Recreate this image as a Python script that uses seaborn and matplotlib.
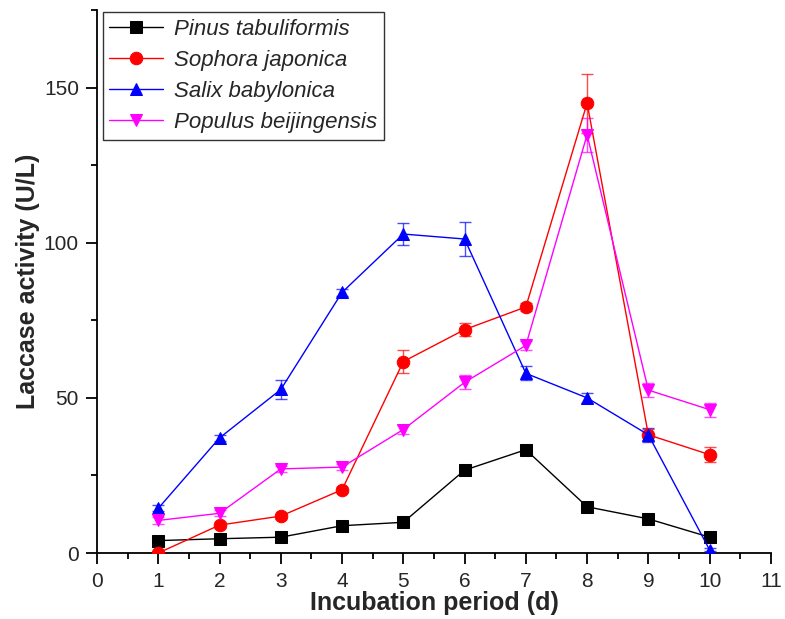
import matplotlib
matplotlib.use("Agg")
import matplotlib.pyplot as plt
import seaborn as sns
import pandas as pd
from matplotlib.ticker import MultipleLocator

days = [1, 2, 3, 4, 5, 6, 7, 8, 9, 10]

pinus = [4.0, 4.6, 5.1, 8.8, 9.9, 26.7, 33.3, 14.9, 11.0, 5.1]
pinus_err = [0.5, 0.5, 0.5, 0.8, 0.8, 1.2, 1.5, 1.0, 1.0, 1.0]

sophora = [0.0, 9.0, 11.9, 20.4, 61.7, 72.0, 79.3, 145.0, 38.1, 31.7]
sophora_err = [0.3, 1.0, 0.8, 1.0, 3.8, 2.0, 1.2, 9.5, 2.0, 2.5]

salix = [14.4, 37.1, 52.7, 84.0, 102.8, 101.2, 57.9, 50.0, 38.1, 1.0]
salix_err = [1.0, 1.0, 3.0, 1.2, 3.5, 5.4, 2.3, 1.5, 2.2, 0.5]

populus = [10.5, 12.8, 27.1, 27.7, 39.8, 55.0, 66.9, 134.8, 52.5, 46.2]
populus_err = [1.0, 1.0, 1.0, 1.0, 1.5, 2.3, 1.5, 5.4, 2.3, 2.3]

names = ["Pinus tabuliformis", "Sophora japonica", "Salix babylonica", "Populus beijingensis"]
colors = ["black", "red", "blue", "magenta"]
markers = ["s", "o", "^", "v"]

sns.set_style("ticks")
plt.rcParams['font.family'] = ['Liberation Sans', 'DejaVu Sans']

fig = plt.figure(figsize=(7.85, 6.19), dpi=100)
ax = fig.add_axes([0.1236, 0.1066, 0.8584, 0.8772])

series = [(pinus, pinus_err), (sophora, sophora_err), (salix, salix_err), (populus, populus_err)]
for (vals, errs), name, c, m in zip(series, names, colors, markers):
    df = pd.DataFrame({"day": days, "act": vals})
    ax.errorbar(days, vals, yerr=errs, fmt="none", ecolor=c, elinewidth=1,
                capsize=4, capthick=1, alpha=0.7, zorder=2)
    sns.lineplot(data=df, x="day", y="act", ax=ax, color=c, marker=m,
                 markersize=9, markeredgecolor=c, linewidth=1, label=name, zorder=3)

ax.set_xlim(0, 11)
ax.set_ylim(0, 175)
ax.xaxis.set_major_locator(MultipleLocator(1))
ax.xaxis.set_minor_locator(MultipleLocator(0.5))
ax.yaxis.set_major_locator(MultipleLocator(50))
ax.yaxis.set_minor_locator(MultipleLocator(25))
ax.tick_params(which="major", direction="out", length=8, width=1.3, labelsize=15,
               color="black", pad=5)
ax.tick_params(which="minor", direction="out", length=4.5, width=1.3, color="black")
ax.tick_params(axis="x", which="major", pad=6)
for s in ["left", "bottom"]:
    ax.spines[s].set_linewidth(1.3)
    ax.spines[s].set_color("black")
sns.despine(ax=ax)

ax.set_xlabel("Incubation period (d)", fontsize=18, fontweight="bold", labelpad=0)
ax.set_ylabel("Laccase activity (U/L)", fontsize=18, fontweight="bold", labelpad=3)

leg = ax.legend(loc="upper left", bbox_to_anchor=(0.005, 1.0), prop={"style": "italic", "size": 16},
                frameon=True, fancybox=False, edgecolor="#333333", framealpha=1,
                handlelength=2.4, borderpad=0.3, labelspacing=0.45, handletextpad=0.5,
                borderaxespad=0.1)
leg.get_frame().set_linewidth(1)

fig.savefig("out.png", dpi=100)
